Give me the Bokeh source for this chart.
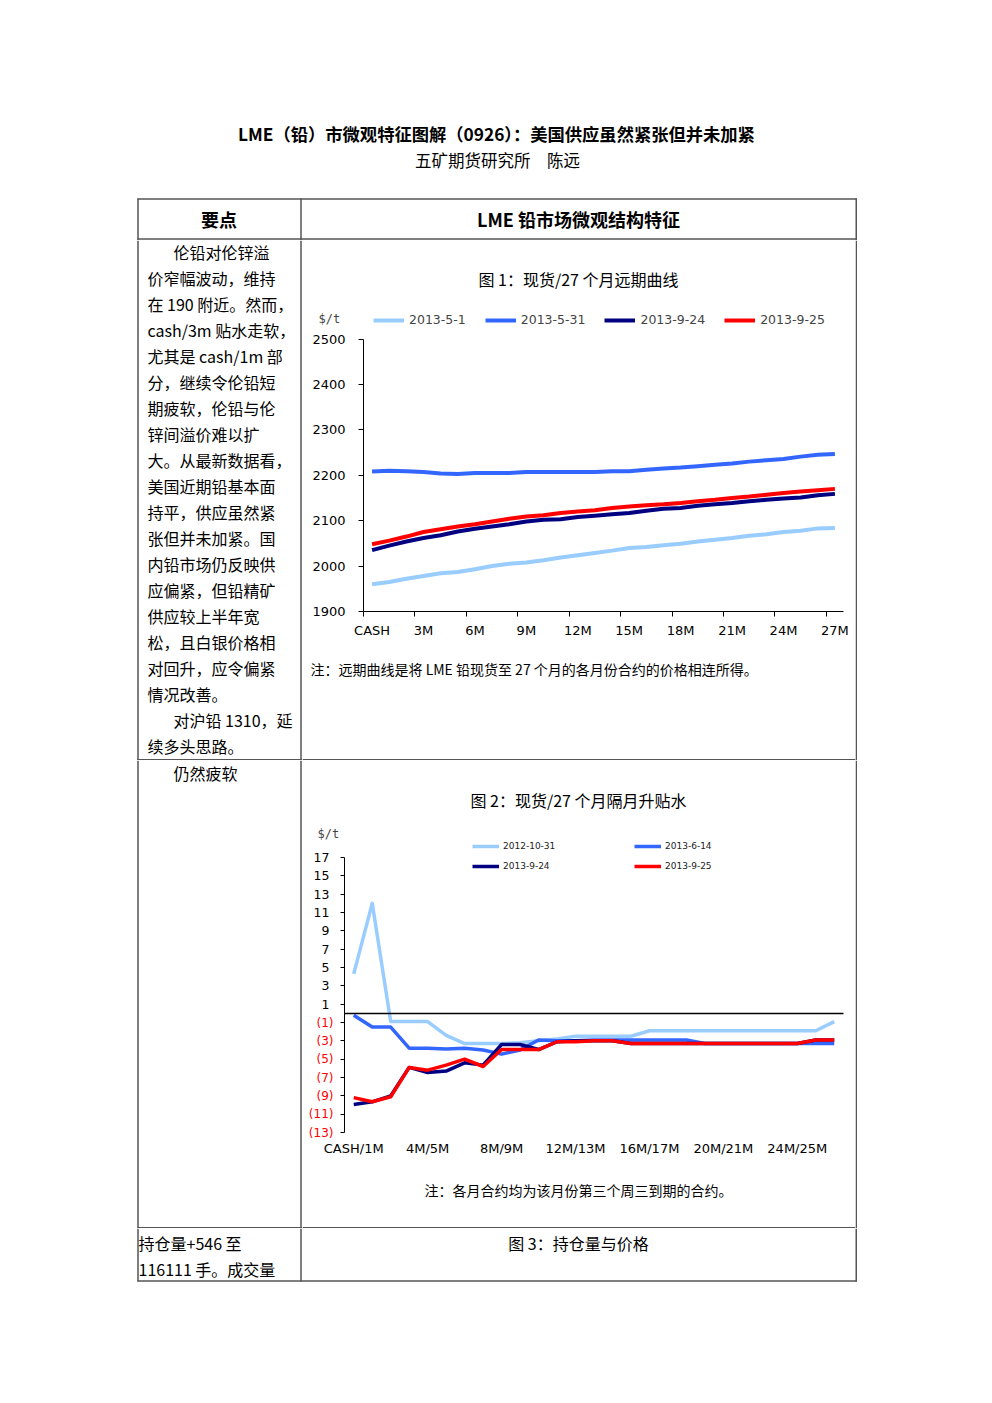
from bokeh.plotting import figure
from bokeh.models import Range1d, FixedTicker, Legend, LegendItem, Label, LinearAxis
from bokeh.layouts import column, row
from bokeh.embed import file_html
from bokeh.resources import INLINE
from bokeh.core.properties import value

# ---------------- Figure 1 data: LME lead forward curves ($/t) ----------------
fc_contracts = ["CASH", "1M", "2M", "3M", "4M", "5M", "6M", "7M", "8M", "9M",
                "10M", "11M", "12M", "13M", "14M", "15M", "16M", "17M", "18M",
                "19M", "20M", "21M", "22M", "23M", "24M", "25M", "26M", "27M"]
fc_tick_labels = ["CASH", "3M", "6M", "9M", "12M", "15M", "18M", "21M", "24M", "27M"]
fc_y_ticks = [1900, 2000, 2100, 2200, 2300, 2400, 2500]
fc_series_names = ["2013-5-1", "2013-5-31", "2013-9-24", "2013-9-25"]
fc_2013_05_01 = [1960, 1965, 1972, 1978, 1984, 1987, 1993, 2000, 2005, 2008,
                 2013, 2019, 2024, 2029, 2034, 2040, 2042, 2046, 2049, 2054,
                 2058, 2062, 2067, 2070, 2075, 2078, 2083, 2084]
fc_2013_05_31 = [2208, 2210, 2209, 2207, 2204, 2203, 2205, 2205, 2205, 2207,
                 2207, 2207, 2207, 2207, 2209, 2209, 2212, 2215, 2217, 2220,
                 2223, 2226, 2230, 2233, 2236, 2241, 2245, 2247]
fc_2013_09_24 = [2035, 2045, 2054, 2062, 2068, 2076, 2082, 2087, 2092, 2098,
                 2102, 2103, 2108, 2111, 2114, 2117, 2122, 2126, 2128, 2133,
                 2136, 2139, 2143, 2146, 2149, 2151, 2156, 2159]
fc_2013_09_25 = [2048, 2056, 2065, 2075, 2081, 2087, 2092, 2098, 2104, 2109,
                 2112, 2117, 2120, 2123, 2128, 2131, 2134, 2136, 2139, 2143,
                 2146, 2150, 2153, 2157, 2161, 2164, 2167, 2170]

# ---------------- Figure 2 data: month-to-month spreads ($/t) ----------------
sp_pairs = ["CASH/1M", "1M/2M", "2M/3M", "3M/4M", "4M/5M", "5M/6M", "6M/7M",
            "7M/8M", "8M/9M", "9M/10M", "10M/11M", "11M/12M", "12M/13M",
            "13M/14M", "14M/15M", "15M/16M", "16M/17M", "17M/18M", "18M/19M",
            "19M/20M", "20M/21M", "21M/22M", "22M/23M", "23M/24M", "24M/25M",
            "25M/26M", "26M/27M"]
sp_tick_labels = ["CASH/1M", "4M/5M", "8M/9M", "12M/13M", "16M/17M", "20M/21M", "24M/25M"]
sp_y_ticks = [-13, -11, -9, -7, -5, -3, -1, 1, 3, 5, 7, 9, 11, 13, 15, 17]
sp_y_tick_labels = ["(13)", "(11)", "(9)", "(7)", "(5)", "(3)", "(1)",
                    "1", "3", "5", "7", "9", "11", "13", "15", "17"]
sp_series_names = ["2012-10-31", "2013-6-14", "2013-9-24", "2013-9-25"]
sp_2012_10_31 = [4.3, 12.0, -0.9, -0.9, -0.9, -2.4, -3.3, -3.3, -3.3, -3.2,
                 -3.0, -2.8, -2.5, -2.5, -2.5, -2.5, -1.9, -1.9, -1.9, -1.9,
                 -1.9, -1.9, -1.9, -1.9, -1.9, -1.9, -0.9]
sp_2013_06_14 = [-0.2, -1.5, -1.5, -3.8, -3.8, -3.9, -3.8, -4.0, -4.45, -4.0,
                 -2.9, -3.0, -3.0, -2.9, -2.9, -2.9, -2.9, -2.9, -2.9, -3.3,
                 -3.3, -3.3, -3.3, -3.3, -3.3, -3.3, -3.3]
sp_2013_09_24 = [-9.95, -9.65, -9.0, -5.9, -6.45, -6.3, -5.4, -5.65, -3.4, -3.4,
                 -3.95, -3.1, -3.0, -3.0, -3.0, -3.3, -3.3, -3.3, -3.3, -3.3,
                 -3.3, -3.3, -3.3, -3.3, -3.3, -2.9, -2.9]
sp_2013_09_25 = [-9.2, -9.65, -9.1, -5.9, -6.2, -5.65, -5.0, -5.8, -3.95, -3.95,
                 -3.95, -3.1, -3.1, -3.0, -3.0, -3.3, -3.3, -3.3, -3.3, -3.3,
                 -3.3, -3.3, -3.3, -3.3, -3.3, -2.9, -2.9]

# ---------------- page texts ----------------
title_text = "LME（铅）市微观特征图解（0926）：美国供应虽然紧张但并未加紧"
subtitle_text = "五矿期货研究所　陈远"
header_left = "要点"
header_right = "LME 铅市场微观结构特征"
row1_lines = ["伦铅对伦锌溢", "价窄幅波动，维持", "在 190 附近。然而，", "cash/3m 贴水走软，",
              "尤其是 cash/1m 部", "分，继续令伦铅短", "期疲软，伦铅与伦", "锌间溢价难以扩",
              "大。从最新数据看，", "美国近期铅基本面", "持平，供应虽然紧", "张但并未加紧。国",
              "内铅市场仍反映供", "应偏紧，但铅精矿", "供应较上半年宽", "松，且白银价格相",
              "对回升，应令偏紧", "情况改善。", "对沪铅 1310，延", "续多头思路。"]
row1_indented = [0, 18]
row2_text = "仍然疲软"
row3_lines = ["持仓量+546 至", "116111 手。成交量"]
fig1_title = "图 1：现货/27 个月远期曲线"
fig1_note = "注：远期曲线是将 LME 铅现货至 27 个月的各月份合约的价格相连所得。"
fig2_title = "图 2：现货/27 个月隔月升贴水"
fig2_note = "注：各月合约均为该月份第三个周三到期的合约。"
fig3_title = "图 3：持仓量与价格"

# ---------------- styles ----------------
CJK = "Noto Sans CJK SC"
BORDER = "#555555"
BW = 1.5
COLORS = ["#99CCFF", "#3366FF", "#000080", "#FF0000"]
TICK_FONT = "DejaVu Sans"


def canvas(w, h):
    p = figure(width=w, height=h, x_range=Range1d(0, w), y_range=Range1d(h, 0),
               x_axis_type=None, y_axis_type=None, toolbar_location=None,
               output_backend="svg", min_border=0, outline_line_color=None,
               title=None, background_fill_color="white", border_fill_color="white")
    return p


def txt(p, x, y, s, size="16px", align="left", bold=False, color="black"):
    p.text(x=[x], y=[y], text=[s], text_font=value(CJK), text_font_size=value(size),
           text_align=align, text_baseline="middle", text_color=color,
           text_font_style="bold" if bold else "normal")


def hline(p, x0, x1, y):
    p.segment(x0=[x0], y0=[y], x1=[x1], y1=[y], line_color=BORDER, line_width=BW)


def vline(p, x, y0, y1):
    p.segment(x0=[x], y0=[y0], x1=[x], y1=[y1], line_color=BORDER, line_width=BW)


def style_axis(ax, size="12px", color="black"):
    ax.major_label_text_font = TICK_FONT
    ax.major_label_text_font_size = size
    ax.major_label_text_color = color


def chart_ranges(box, plot_x, plot_y, x_lo, x_hi, y_lo, y_hi):
    """box=(L,T,R,B) page pixels of the figure; plot_x/plot_y = page pixels of
    the value extents (x_lo,x_hi) and (y_lo,y_hi) -> ranges covering the box."""
    L, T, R, B = box
    px_per_x = (plot_x[1] - plot_x[0]) / (x_hi - x_lo)
    px_per_y = (plot_y[0] - plot_y[1]) / (y_hi - y_lo)
    xr = Range1d(x_lo - (plot_x[0] - L) / px_per_x, x_hi + (R - plot_x[1]) / px_per_x)
    yr = Range1d(y_lo - (B - plot_y[0]) / px_per_y, y_hi + (plot_y[1] - T) / px_per_y)
    return xr, yr


def chart_fig(box, xr, yr):
    L, T, R, B = box
    p = figure(width=R - L, height=B - T, x_range=xr, y_range=yr, toolbar_location=None,
               output_backend="svg", title=None, min_border=0, outline_line_color=None,
               background_fill_color="white", border_fill_color="white")
    p.grid.visible = False
    return p


# ---------------- block A: title + header row (y 0-240) ----------------
A = canvas(992, 240)
txt(A, 496, 133, title_text, size="17.3px", align="center", bold=True)
txt(A, 497, 159, subtitle_text, size="16.5px", align="center")
hline(A, 137, 856.5, 198.5)
hline(A, 137, 856.5, 238.5)
for xv in (137.5, 300.5, 855.75):
    vline(A, xv, 198, 240)
txt(A, 218.5, 218, header_left, size="18px", align="center", bold=True)
txt(A, 578, 218, header_right, size="18px", align="center", bold=True)

# ---------------- row 1 (y 240-760) ----------------
B_left = canvas(302, 520)
vline(B_left, 137.5, 0, 520)
vline(B_left, 300.5, 0, 520)
hline(B_left, 137, 302, 519.25)
for k, line in enumerate(row1_lines):
    txt(B_left, 173 if k in row1_indented else 147, 11 + 26 * k, line)

B_right = canvas(137, 520)
vline(B_right, 0.75, 0, 520)
hline(B_right, 0, 1.5, 519.25)

B_t = canvas(553, 60)
txt(B_t, 276, 38, fig1_title, size="16px", align="center")

B_n = canvas(553, 115)
txt(B_n, 8, 23, fig1_note, size="14px")
hline(B_n, 0, 553, 114.25)

# chart 1: figure box on the page, plot area x 363-843, y 611 (1900) - 338.5 (2500)
BOX1 = (302, 300, 855, 645)
xr1, yr1 = chart_ranges(BOX1, (363, 843), (611, 338.5),
                        -0.5, len(fc_contracts) - 0.5, fc_y_ticks[0], fc_y_ticks[-1])
c1 = chart_fig(BOX1, xr1, yr1)
xs1 = list(range(len(fc_contracts)))
r1 = []
for ser, col in zip([fc_2013_05_01, fc_2013_05_31, fc_2013_09_24, fc_2013_09_25], COLORS):
    r1.append(c1.line(xs1, ser, line_color=col, line_width=4, line_join="round"))

fc_tick_pos = [fc_contracts.index(t) for t in fc_tick_labels]
xa = c1.xaxis[0]
xa.fixed_location = fc_y_ticks[0]
xa.ticker = FixedTicker(ticks=fc_tick_pos, minor_ticks=[t - 0.5 for t in fc_tick_pos])
xa.bounds = (-0.5, len(fc_contracts) - 0.5)
xa.major_label_overrides = {p: l for p, l in zip(fc_tick_pos, fc_tick_labels)}
xa.major_tick_out = 0
xa.major_tick_in = 0
xa.minor_tick_out = 5
xa.minor_tick_in = 0
xa.major_label_standoff = 6
xa.axis_line_color = "black"
style_axis(xa, size="13px")

ya = c1.yaxis[0]
ya.fixed_location = -0.5
ya.ticker = FixedTicker(ticks=fc_y_ticks)
ya.bounds = (fc_y_ticks[0], fc_y_ticks[-1])
ya.major_tick_out = 5
ya.major_tick_in = 0
ya.minor_tick_out = 0
ya.minor_tick_in = 0
ya.major_label_standoff = 13
ya.axis_line_color = "black"
style_axis(ya, size="13px")

L1, T1, R1, B1 = BOX1
leg1 = Legend(items=[LegendItem(label=n, renderers=[r]) for n, r in zip(fc_series_names, r1)],
              orientation="horizontal", location=(373 - L1, B1 - 327), glyph_width=31,
              glyph_height=14, label_height=14, label_standoff=5, spacing=19, padding=0,
              margin=0, border_line_color=None, background_fill_alpha=0,
              label_text_font=TICK_FONT, label_text_font_size="12.5px")
c1.add_layout(leg1, "center")
c1.add_layout(Label(x=318 - L1, y=B1 - 318, x_units="screen", y_units="screen", text="$/t",
                    text_font="DejaVu Sans Mono", text_font_size="12px",
                    text_baseline="middle", text_align="left"))

# ---------------- row 2 (y 760-1228) ----------------
C_left = canvas(302, 468)
vline(C_left, 137.5, 0, 468)
vline(C_left, 300.5, 0, 468)
hline(C_left, 137, 302, 467.25)
txt(C_left, 173, 12, row2_text)

C_right = canvas(137, 468)
vline(C_right, 0.75, 0, 468)
hline(C_right, 0, 1.5, 467.25)

C_t = canvas(553, 55)
txt(C_t, 276, 39, fig2_title, size="16px", align="center")

C_n = canvas(553, 63)
txt(C_n, 276, 24, fig2_note, size="14px", align="center")
hline(C_n, 0, 553, 62.25)

# chart 2: figure box on the page, plot area x 344-843, y 1132 (-13) - 857 (17)
BOX2 = (302, 815, 855, 1165)
xr2, yr2 = chart_ranges(BOX2, (344, 843), (1132, 857),
                        -0.5, len(sp_pairs) - 0.5, sp_y_ticks[0], sp_y_ticks[-1])
c2 = chart_fig(BOX2, xr2, yr2)

# horizontal category axis line crossing at 0
zero_axis = LinearAxis(fixed_location=0, bounds=(-0.5, len(sp_pairs) - 0.5),
                       ticker=FixedTicker(ticks=[]), axis_line_color="black",
                       axis_line_width=1.3, major_tick_line_color=None,
                       minor_tick_line_color=None, major_label_text_font_size="0px")
c2.add_layout(zero_axis, "below")

xs2 = list(range(len(sp_pairs)))
r2 = []
for ser, col in zip([sp_2012_10_31, sp_2013_06_14, sp_2013_09_24, sp_2013_09_25], COLORS):
    r2.append(c2.line(xs2, ser, line_color=col, line_width=3.5, line_join="round"))

sp_tick_pos = [sp_pairs.index(t) for t in sp_tick_labels]
xb = c2.xaxis[0]
xb.fixed_location = sp_y_ticks[0]
xb.ticker = FixedTicker(ticks=sp_tick_pos)
xb.major_label_overrides = {p: l for p, l in zip(sp_tick_pos, sp_tick_labels)}
xb.axis_line_color = None
xb.major_tick_line_color = None
xb.minor_tick_line_color = None
xb.major_tick_out = 0
xb.major_tick_in = 0
xb.major_label_standoff = 8
style_axis(xb, size="13px")

pos_over = {t: (l if t > 0 else "") for t, l in zip(sp_y_ticks, sp_y_tick_labels)}
neg_over = {t: (l if t < 0 else "") for t, l in zip(sp_y_ticks, sp_y_tick_labels)}
yb = c2.yaxis[0]
yb.fixed_location = -0.5
yb.ticker = FixedTicker(ticks=sp_y_ticks)
yb.bounds = (sp_y_ticks[0], sp_y_ticks[-1])
yb.major_label_overrides = pos_over
yb.major_tick_out = 4
yb.major_tick_in = 0
yb.minor_tick_out = 0
yb.minor_tick_in = 0
yb.major_label_standoff = 11
yb.axis_line_color = "black"
style_axis(yb, size="12.5px")

yneg = LinearAxis(fixed_location=-0.5, ticker=FixedTicker(ticks=sp_y_ticks),
                  bounds=(sp_y_ticks[0], sp_y_ticks[-1]), major_label_overrides=neg_over,
                  axis_line_color=None, major_tick_line_color=None, minor_tick_line_color=None,
                  major_tick_out=4, major_tick_in=0, minor_tick_out=0, minor_tick_in=0,
                  major_label_standoff=7)
style_axis(yneg, size="12px", color="#FF0000")
c2.add_layout(yneg, "left")

L2, T2, R2, B2 = BOX2
leg_kw = dict(orientation="vertical", glyph_width=27, glyph_height=12, label_height=12,
              label_standoff=4, spacing=8, padding=0, margin=0, border_line_color=None,
              background_fill_alpha=0, label_text_font=TICK_FONT,
              label_text_font_size="9px", label_text_color="#222222")
leg2a = Legend(items=[LegendItem(label=sp_series_names[i], renderers=[r2[i]]) for i in (0, 2)],
               location=(472 - L2, B2 - 872), **leg_kw)
leg2b = Legend(items=[LegendItem(label=sp_series_names[i], renderers=[r2[i]]) for i in (1, 3)],
               location=(634 - L2, B2 - 872), **leg_kw)
c2.add_layout(leg2a, "center")
c2.add_layout(leg2b, "center")
c2.add_layout(Label(x=317 - L2, y=B2 - 833, x_units="screen", y_units="screen", text="$/t",
                    text_font="DejaVu Sans Mono", text_font_size="12px",
                    text_baseline="middle", text_align="left"))

# ---------------- row 3 (y 1228-1403) ----------------
D = canvas(992, 175)
for xv in (137.5, 300.5, 855.75):
    vline(D, xv, 0, 53)
hline(D, 137, 856.5, 52.5)
txt(D, 138, 14, row3_lines[0])
txt(D, 138, 40, row3_lines[1])
txt(D, 578, 14, fig3_title, size="16px", align="center")

page = column(
    A,
    row(B_left, column(B_t, c1, B_n), B_right),
    row(C_left, column(C_t, c2, C_n), C_right),
    D,
)

open("out.html", "w").write(file_html(page, INLINE, title="LME lead"))
